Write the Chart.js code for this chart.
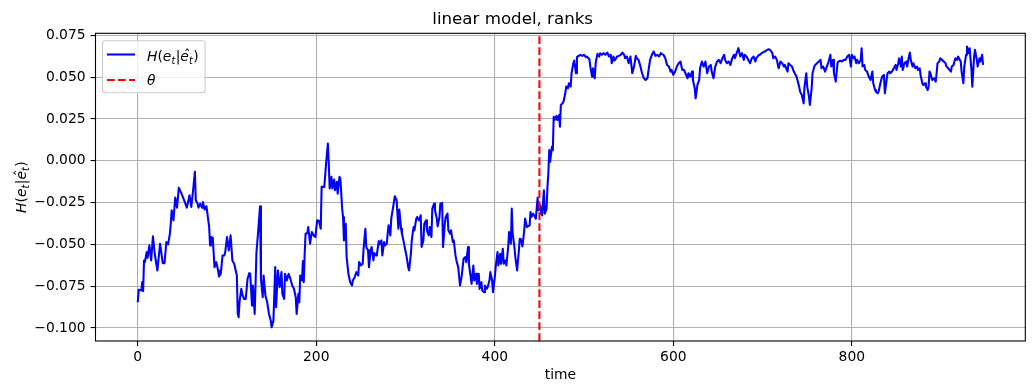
<!DOCTYPE html>
<html><head><meta charset="utf-8">
<script src="https://cdn.jsdelivr.net/npm/chart.js@4/dist/chart.umd.min.js"></script>
<style>html,body{margin:0;padding:0;background:#fff}#wrap{width:1035px;height:385px;position:relative}</style>
</head><body><div id="wrap"><canvas id="c" width="1035" height="385"></canvas></div>
<script>
// ---- data ----
const timeSteps = [
0,1,4,5,6,7,8,10,11,13,15,17,19,22,25,28,30,32,34,36,37,38,40,42,44,46,49,52,55,58,60,62,64,65,67,68,70,72,73,75,77,79,80,81,82,84,86,88,90,91,93,95,97,98,
100,102,104,106,108,111,112,113,114,116,117,119,121,123,125,126,128,129,131,133,135,137,138,140,141,143,145,147,149,150,152,154,155,157,159,161,162,164,165,167,169,171,173,175,177,178,
180,181,182,184,185,186,187,188,190,191,193,195,197,199,201,203,205,206,209,211,213,214,215,217,218,220,221,223,224,226,227,229,230,231,233,234,236,238,240,241,243,245,247,248,250,252,253,255,256,258,259,261,262,264,265,267,268,270,271,273,274,276,277,279,
280,281,283,284,286,288,290,292,293,295,296,298,299,301,303,304,306,307,309,310,312,313,315,317,318,320,321,323,324,326,327,329,330,332,333,335,336,338,339,341,342,344,345,347,348,350,351,353,354,356,357,359,361,
363,365,367,368,370,371,373,374,376,377,379,380,382,383,385,386,388,389,391,392,394,395,397,398,400,401,403,404,406,407,409,410,412,413,415,416,418,419,420,422,423,425,427,428,429,431,433,434,436,437,439,440,441,443,444,446,448,449,451,452,453,455,456,458,459,
460,461,462,464,465,466,467,469,470,472,473,474,476,477,479,480,482,483,485,486,488,489,491,492,494,496,498,500,502,503,506,507,509,510,512,513,515,517,518,520,522,524,526,528,530,531,533,534,536,537,539,541,543,545,546,548,550,552,554,556,558,559,561,563,565,567,569,571,572,574,576,578,580,582,584,586,587,589,591,593,595,597,598,
600,602,604,606,608,610,612,613,616,617,619,621,622,624,625,627,629,630,632,634,636,638,640,642,643,645,647,649,651,653,655,657,658,660,662,664,666,668,669,671,673,675,677,679,680,682,685,686,688,690,692,693,696,697,699,
702,703,705,707,709,711,712,714,716,718,720,722,724,725,728,729,731,733,735,737,738,741,742,744,746,747,749,750,752,753,755,756,758,759,761,763,765,766,768,770,772,774,776,777,779,780,782,784,785,787,789,791,793,795,797,799,
800,802,803,805,806,808,810,811,812,814,815,817,819,821,823,824,826,827,829,830,832,834,836,837,839,840,842,843,845,847,849,850,852,853,855,856,857,859,861,862,864,865,866,868,869,871,873,874,876,877,879,880,882,883,885,886,887,888,890,892,894,895,896,898,899,
901,903,905,906,908,911,912,914,916,918,919,922,923,925,926,928,929,931,932,934,935,937,938,940,941,943,944,946,947
];
const entropyValues = [
-0.0846,-0.0772,-0.0776,-0.0726,-0.0780,-0.0596,-0.0606,-0.0546,-0.0580,-0.0506,-0.0596,-0.0452,-0.0556,-0.0656,-0.0496,-0.0612,-0.0612,-0.0486,-0.0500,-0.0436,-0.0376,-0.0296,-0.0356,-0.0220,-0.0280,-0.0162,-0.0196,-0.0236,-0.0280,-0.0206,-0.0276,-0.0176,-0.0066,-0.0236,-0.0256,-0.0280,-0.0256,-0.0280,-0.0246,-0.0292,-0.0272,-0.0356,-0.0396,-0.0506,-0.0456,-0.0460,-0.0636,-0.0606,-0.0656,-0.0692,-0.0676,-0.0566,-0.0566,-0.0546,
-0.0456,-0.0536,-0.0446,-0.0596,-0.0616,-0.0686,-0.0912,-0.0936,-0.0846,-0.0766,-0.0796,-0.0826,-0.0826,-0.0706,-0.0672,-0.0676,-0.0866,-0.0746,-0.0916,-0.0546,-0.0416,-0.0272,-0.0706,-0.0816,-0.0686,-0.0806,-0.0846,-0.0916,-0.0956,-0.0996,-0.0956,-0.0636,-0.0876,-0.0656,-0.0756,-0.0666,-0.0796,-0.0826,-0.0676,-0.0716,-0.0676,-0.0706,-0.0746,-0.0766,-0.0816,-0.0916,
-0.0796,-0.0846,-0.0686,-0.0716,-0.0600,-0.0726,-0.0556,-0.0436,-0.0432,-0.0396,-0.0496,-0.0426,-0.0446,-0.0456,-0.0356,-0.0360,-0.0406,-0.0156,-0.0156,-0.0016,0.0104,-0.0016,-0.0166,-0.0096,-0.0166,-0.0112,-0.0176,-0.0126,-0.0196,-0.0096,-0.0106,-0.0286,-0.0336,-0.0476,-0.0376,-0.0576,-0.0676,-0.0726,-0.0746,-0.0716,-0.0696,-0.0666,-0.0686,-0.0606,-0.0626,-0.0616,-0.0526,-0.0406,-0.0516,-0.0536,-0.0636,-0.0536,-0.0516,-0.0596,-0.0552,-0.0566,-0.0556,-0.0480,-0.0500,-0.0476,-0.0566,-0.0486,-0.0506,-0.0496,
-0.0436,-0.0386,-0.0446,-0.0346,-0.0280,-0.0212,-0.0236,-0.0406,-0.0292,-0.0406,-0.0436,-0.0486,-0.0516,-0.0566,-0.0636,-0.0656,-0.0556,-0.0476,-0.0396,-0.0416,-0.0346,-0.0336,-0.0356,-0.0326,-0.0516,-0.0476,-0.0376,-0.0356,-0.0416,-0.0446,-0.0396,-0.0456,-0.0286,-0.0256,-0.0296,-0.0346,-0.0392,-0.0336,-0.0256,-0.0252,-0.0516,-0.0376,-0.0336,-0.0316,-0.0416,-0.0436,-0.0416,-0.0486,-0.0476,-0.0566,-0.0596,-0.0636,-0.0746,
-0.0686,-0.0586,-0.0576,-0.0606,-0.0516,-0.0616,-0.0696,-0.0736,-0.0626,-0.0716,-0.0676,-0.0736,-0.0676,-0.0766,-0.0726,-0.0776,-0.0786,-0.0746,-0.0766,-0.0756,-0.0716,-0.0666,-0.0716,-0.0786,-0.0696,-0.0636,-0.0546,-0.0626,-0.0556,-0.0616,-0.0526,-0.0616,-0.0596,-0.0626,-0.0516,-0.0426,-0.0496,-0.0286,-0.0436,-0.0516,-0.0576,-0.0656,-0.0536,-0.0466,-0.0466,-0.0512,-0.0416,-0.0346,-0.0396,-0.0392,-0.0386,-0.0306,-0.0336,-0.0316,-0.0326,-0.0346,-0.0220,-0.0296,-0.0266,-0.0316,-0.0326,-0.0176,-0.0316,-0.0286,-0.0156,
-0.0076,0.0064,-0.0006,0.0084,0.0064,0.0264,0.0244,0.0268,0.0244,0.0274,0.0204,0.0334,0.0344,0.0354,0.0404,0.0444,0.0434,0.0464,0.0444,0.0524,0.0584,0.0600,0.0524,0.0620,0.0628,0.0634,0.0628,0.0634,0.0620,0.0624,0.0608,0.0564,0.0504,0.0554,0.0494,0.0584,0.0640,0.0624,0.0644,0.0634,0.0644,0.0634,0.0648,0.0624,0.0634,0.0584,0.0624,0.0600,0.0614,0.0624,0.0628,0.0634,0.0648,0.0634,0.0614,0.0624,0.0584,0.0624,0.0524,0.0564,0.0628,0.0614,0.0604,0.0568,0.0524,0.0494,0.0484,0.0494,0.0534,0.0604,0.0634,0.0654,0.0628,0.0634,0.0624,0.0644,0.0640,0.0634,0.0614,0.0574,0.0564,0.0534,0.0544,
0.0514,0.0534,0.0564,0.0584,0.0594,0.0544,0.0544,0.0544,0.0494,0.0524,0.0504,0.0534,0.0484,0.0434,0.0374,0.0454,0.0484,0.0554,0.0594,0.0564,0.0594,0.0524,0.0564,0.0574,0.0534,0.0494,0.0564,0.0594,0.0604,0.0584,0.0614,0.0634,0.0604,0.0584,0.0594,0.0574,0.0614,0.0634,0.0614,0.0644,0.0674,0.0624,0.0644,0.0604,0.0634,0.0624,0.0594,0.0584,0.0614,0.0624,0.0594,0.0614,0.0634,0.0634,0.0644,
0.0654,0.0654,0.0664,0.0668,0.0660,0.0644,0.0614,0.0624,0.0604,0.0554,0.0594,0.0584,0.0564,0.0574,0.0534,0.0584,0.0574,0.0564,0.0534,0.0514,0.0504,0.0444,0.0414,0.0394,0.0344,0.0444,0.0524,0.0444,0.0384,0.0334,0.0434,0.0524,0.0564,0.0574,0.0584,0.0594,0.0604,0.0554,0.0564,0.0534,0.0564,0.0594,0.0634,0.0564,0.0604,0.0524,0.0474,0.0584,0.0594,0.0600,0.0594,0.0604,0.0604,0.0624,0.0634,0.0564,
0.0634,0.0614,0.0624,0.0584,0.0604,0.0584,0.0604,0.0674,0.0564,0.0574,0.0544,0.0534,0.0504,0.0484,0.0534,0.0464,0.0424,0.0414,0.0404,0.0414,0.0464,0.0504,0.0514,0.0404,0.0484,0.0524,0.0534,0.0524,0.0534,0.0554,0.0574,0.0544,0.0584,0.0614,0.0564,0.0624,0.0544,0.0584,0.0594,0.0564,0.0624,0.0648,0.0604,0.0564,0.0584,0.0554,0.0564,0.0544,0.0554,0.0514,0.0464,0.0454,0.0464,0.0444,0.0424,0.0444,0.0534,0.0524,0.0484,0.0494,0.0474,0.0524,0.0584,0.0594,0.0614,
0.0604,0.0594,0.0584,0.0564,0.0554,0.0534,0.0564,0.0574,0.0614,0.0604,0.0624,0.0594,0.0534,0.0464,0.0564,0.0634,0.0684,0.0644,0.0674,0.0544,0.0444,0.0624,0.0664,0.0604,0.0564,0.0614,0.0594,0.0634,0.0574
];
const thetaTime = 450;
const xTickValues = [0, 200, 400, 600, 800];
const yTickValues = [-0.100, -0.075, -0.050, -0.025, 0.000, 0.025, 0.050, 0.075];
const chartTitle = 'linear model, ranks';
const xAxisTitle = 'time';
const seriesNames = ['H(e_t|ê_t)', 'θ'];

// ---- axis limits (matplotlib 5% margins) ----
const X_MIN = -47.35, X_MAX = 994.35;
const Y_MIN = -0.1078, Y_MAX = 0.0763;

const FONT = '"DejaVu Sans", "Liberation Sans", sans-serif';
const FS = 13.89;

// draw H(e_t|ê_t) as mathtext-like pieces
function mathPieces() {
  return [
    {t:'H', it:true}, {t:'(', it:false}, {t:'e', it:true}, {t:'t', it:true, sub:true},
    {t:'|', it:false}, {t:'e', it:true, hatStart:true}, {t:'t', it:true, sub:true, hatEnd:true},
    {t:')', it:false}
  ];
}
function drawMath(ctx, x, y, size, doDraw) {
  let cx = x, h0 = 0, h1 = 0;
  ctx.textBaseline = 'alphabetic';
  ctx.textAlign = 'left';
  for (const p of mathPieces()) {
    const s = p.sub ? size * 0.7 : size;
    ctx.font = (p.it ? 'italic ' : '') + s + 'px ' + FONT;
    const w = ctx.measureText(p.t).width;
    if (doDraw) ctx.fillText(p.t, cx, y + (p.sub ? size * 0.2 : 0));
    if (p.hatStart) h0 = cx;
    cx += w + (p.sub ? 0.5 : 0);
    if (p.hatEnd) h1 = cx;
  }
  if (doDraw) {
    ctx.font = size + 'px ' + FONT;
    ctx.textAlign = 'center';
    ctx.fillText('\u02C6', (h0 + h1) / 2 + 0.5, y - size * 0.05);
    ctx.textAlign = 'left';
  }
  return cx - x;
}

const decor = {
  id: 'mplDecor',
  afterDraw(chart) {
    const ctx = chart.ctx, ca = chart.chartArea;
    ctx.save();
    // spines
    ctx.strokeStyle = '#000'; ctx.lineWidth = 1.1; ctx.setLineDash([]);
    ctx.strokeRect(ca.left, ca.top, ca.right - ca.left, ca.bottom - ca.top);

    // legend
    const bx = ca.left + 7, by = ca.top + 7.4;
    const tx = bx + 44.5;
    const tw = drawMath(ctx, tx, 0, FS, false);
    const bw = (tx + tw + 6.5) - bx, bh = 52;
    const r = 3;
    ctx.beginPath();
    ctx.moveTo(bx + r, by); ctx.lineTo(bx + bw - r, by); ctx.quadraticCurveTo(bx + bw, by, bx + bw, by + r);
    ctx.lineTo(bx + bw, by + bh - r); ctx.quadraticCurveTo(bx + bw, by + bh, bx + bw - r, by + bh);
    ctx.lineTo(bx + r, by + bh); ctx.quadraticCurveTo(bx, by + bh, bx, by + bh - r);
    ctx.lineTo(bx, by + r); ctx.quadraticCurveTo(bx, by, bx + r, by);
    ctx.closePath();
    ctx.fillStyle = 'rgba(255,255,255,0.8)'; ctx.fill();
    ctx.strokeStyle = '#cccccc'; ctx.lineWidth = 1.1; ctx.stroke();

    ctx.lineWidth = 2.08; ctx.lineCap = 'butt';
    ctx.strokeStyle = '#0000ff';
    ctx.beginPath(); ctx.moveTo(bx + 4.5, by + 13.8); ctx.lineTo(bx + 32.5, by + 13.8); ctx.stroke();
    ctx.strokeStyle = '#ff0000'; ctx.setLineDash([7.7, 3.3]);
    ctx.beginPath(); ctx.moveTo(bx + 4.5, by + 39.3); ctx.lineTo(bx + 32.5, by + 39.3); ctx.stroke();
    ctx.setLineDash([]);

    ctx.fillStyle = '#000';
    drawMath(ctx, tx, by + 20.3, FS, true);
    ctx.font = 'italic ' + FS + 'px ' + FONT;
    ctx.textBaseline = 'alphabetic'; ctx.textAlign = 'left';
    ctx.fillText(seriesNames[1], tx, by + 44.3);

    // y-axis label (rotated)
    const lw = drawMath(ctx, 0, 0, FS, false);
    ctx.translate(26, (ca.top + ca.bottom) / 2);
    ctx.rotate(-Math.PI / 2);
    drawMath(ctx, -lw / 2, 0, FS, true);
    ctx.restore();
  }
};

const lineData = timeSteps.map((t, i) => ({x: t, y: entropyValues[i]}));
const thetaData = [{x: thetaTime, y: Y_MIN}, {x: thetaTime, y: Y_MAX}];

const fmtY = v => { const s = Math.abs(v).toFixed(3); return (v < -1e-9 ? '\u2212' : '') + s; };

new Chart(document.getElementById('c'), {
  type: 'line',
  data: {
    datasets: [
      {label: seriesNames[1], data: thetaData, borderColor: '#ff0000', borderWidth: 2.08, borderDash: [7.7, 3.3],
       pointRadius: 0, fill: false, order: 0},
      {label: seriesNames[0], data: lineData, borderColor: '#0000ff', borderWidth: 2.08, pointRadius: 0,
       borderJoinStyle: 'round', fill: false, tension: 0, order: 1}
    ]
  },
  options: {
    responsive: false, animation: false, devicePixelRatio: 1,
    parsing: false, normalized: true,
    layout: {padding: {left: 0, right: 9.7, top: 0, bottom: 0}},
    plugins: {
      legend: {display: false}, tooltip: {enabled: false},
      title: {display: true, text: chartTitle, color: '#000',
        font: {family: FONT, size: 16.67, weight: 'normal', lineHeight: 1.2},
        padding: {top: 9.5, bottom: 3.8}}
    },
    scales: {
      x: {type: 'linear', min: X_MIN, max: X_MAX,
        afterBuildTicks: s => { s.ticks = xTickValues.map(v => ({value: v})); },
        afterFit: s => { s.height = 44; s.paddingLeft = 0; s.paddingRight = 0; },
        ticks: {color: '#000', font: {family: FONT, size: FS}, padding: 3.5, maxRotation: 0, autoSkip: false,
          callback: v => String(v)},
        grid: {color: '#b0b0b0', lineWidth: 1.1, drawTicks: true, tickLength: 4.9, tickColor: '#000', tickWidth: 1.1},
        border: {display: false},
        title: {display: true, text: xAxisTitle, color: '#000', font: {family: FONT, size: FS, lineHeight: 1.2},
          padding: {top: 0, bottom: 1}}
      },
      y: {type: 'linear', min: Y_MIN, max: Y_MAX,
        afterBuildTicks: s => { s.ticks = yTickValues.map(v => ({value: v})); },
        afterFit: s => { s.width = 95.5; s.paddingTop = 0; s.paddingBottom = 0; },
        ticks: {color: '#000', font: {family: FONT, size: FS}, padding: 5, autoSkip: false, callback: v => fmtY(v)},
        grid: {color: '#b0b0b0', lineWidth: 1.1, drawTicks: true, tickLength: 4.9, tickColor: '#000', tickWidth: 1.1},
        border: {display: false}
      }
    }
  },
  plugins: [decor]
});
</script>
</body></html>
